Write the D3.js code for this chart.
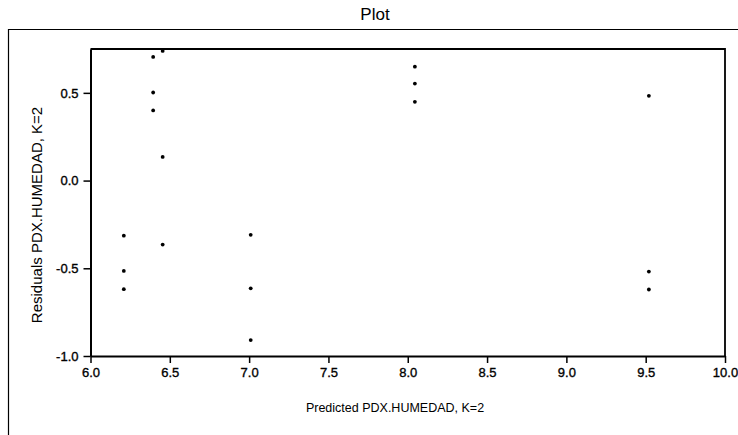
<!DOCTYPE html>
<html>
<head>
<meta charset="utf-8">
<script src="https://cdn.jsdelivr.net/npm/d3@7"></script>
<style>
  html, body { margin: 0; padding: 0; background: #fff; }
  svg { display: block; font-family: "Liberation Sans", Arial, sans-serif; }
</style>
</head>
<body>
<svg id="chart" width="738" height="435"></svg>
<script>
// Data
const predicted = [6.21, 6.21, 6.21, 6.395, 6.395, 6.395, 6.455, 6.455, 6.455, 7.01, 7.01, 7.01, 8.045, 8.045, 8.045, 9.52, 9.52, 9.52];
const residuals = [-0.314, -0.515, -0.619, 0.705, 0.502, 0.400, 0.739, 0.135, -0.365, -0.309, -0.614, -0.909, 0.649, 0.553, 0.449, 0.483, -0.519, -0.621];
const xTicks = [6.0, 6.5, 7.0, 7.5, 8.0, 8.5, 9.0, 9.5, 10.0];
const yTicks = [-1.0, -0.5, 0.0, 0.5];
const titleText = "Plot";
const xLabel = "Predicted PDX.HUMEDAD, K=2";
const yLabel = "Residuals PDX.HUMEDAD, K=2";

const svg = d3.select("#chart");
const plot = { left: 90.5, right: 725, top: 49, bottom: 356 };

const x = d3.scaleLinear().domain([6.0, 10.0]).range([plot.left, plot.right]);
const y = d3.scaleLinear().domain([-1.0, 0.75]).range([plot.bottom, plot.top]);

// Outer frame (open at bottom/right edges of page)
svg.append("path")
  .attr("d", `M8.5,435 L8.5,29.5 L738,29.5`)
  .attr("fill", "none").attr("stroke", "#000").attr("stroke-width", 1.2);

// Title
svg.append("text").attr("x", 375).attr("y", 20).attr("text-anchor", "middle")
  .attr("font-size", 17).attr("fill", "#000").text(titleText);

// Plot frame top and right
svg.append("path")
  .attr("d", `M${plot.left},${plot.top} L${plot.right},${plot.top} L${plot.right},${plot.bottom}`)
  .attr("fill", "none").attr("stroke", "#000").attr("stroke-width", 1.8);

// Axes
const fmt = d => d.toFixed(1);
const xAxis = d3.axisBottom(x).tickValues(xTicks).tickFormat(fmt).tickSize(7).tickSizeOuter(0);
const yAxis = d3.axisLeft(y).tickValues(yTicks).tickFormat(fmt).tickSize(7).tickSizeOuter(0);

const gx = svg.append("g").attr("transform", `translate(0,${plot.bottom})`).call(xAxis);
const gy = svg.append("g").attr("transform", `translate(${plot.left},0)`).call(yAxis);

[gx, gy].forEach(g => {
  g.select(".domain").attr("stroke", "#000").attr("stroke-width", 2);
  g.selectAll(".tick line").attr("stroke", "#000").attr("stroke-width", 1.5);
  g.selectAll(".tick text").attr("fill", "#000").attr("font-size", 13)
    .attr("font-family", "'Liberation Sans', Arial, sans-serif")
    .attr("stroke", "#000").attr("stroke-width", 0.35);
});
gx.selectAll(".tick text").attr("dy", "0.85em");
gy.selectAll(".tick text").attr("dx", "-2px");

// Axis labels
svg.append("text").attr("x", 395).attr("y", 412).attr("text-anchor", "middle")
  .attr("font-size", 12.5).attr("fill", "#000").text(xLabel);
svg.append("text").attr("transform", `translate(42,215) rotate(-90)`)
  .attr("text-anchor", "middle").attr("font-size", 15).attr("fill", "#000").text(yLabel);

// Points
svg.append("g").selectAll("circle")
  .data(predicted.map((p, i) => ({ p, r: residuals[i] })))
  .join("circle")
  .attr("cx", d => x(d.p)).attr("cy", d => y(d.r))
  .attr("r", 1.9).attr("fill", "#000");
</script>
</body>
</html>
